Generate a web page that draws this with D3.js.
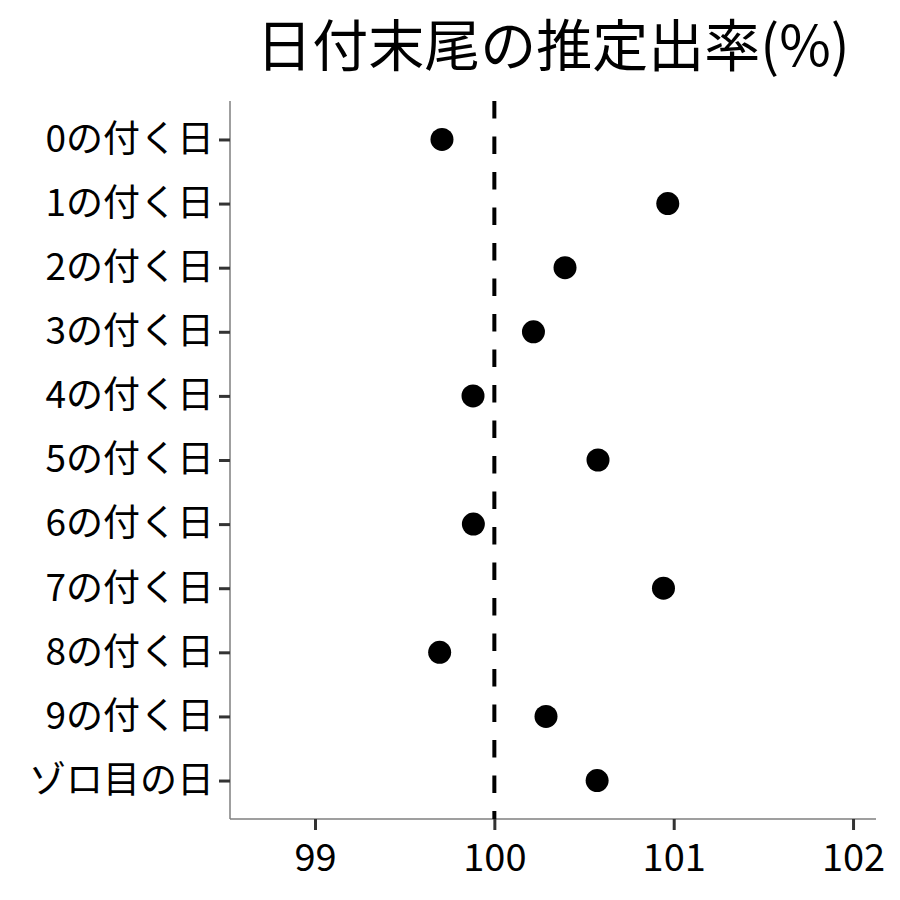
<!DOCTYPE html>
<html><head><meta charset="utf-8">
<script src="https://cdn.jsdelivr.net/npm/d3@7"></script>
<style>body{margin:0;background:#fff}svg{display:block}text{font-family:"Noto Sans CJK JP","Noto Sans",sans-serif}</style>
</head><body><svg id="c" width="900" height="900"></svg>
<script>
const categories = ["0の付く日","1の付く日","2の付く日","3の付く日","4の付く日","5の付く日","6の付く日","7の付く日","8の付く日","9の付く日","ゾロ目の日"];
const values = [99.708,100.967,100.394,100.218,99.881,100.578,99.883,100.943,99.695,100.288,100.573];
const xTicks = [99,100,101,102];
const refValue = 100;
const title = "日付末尾の推定出率(%)";

const svg = d3.select("#c");
const L=230,R=876,T=101,B=819;
const x = d3.scaleLinear().domain([98.526,102.128]).range([L,R]);
const y = d3.scalePoint().domain(categories).range([T,B]).padding(0.6);

svg.append("text").attr("x",(L+R)/2).attr("y",66).attr("text-anchor","middle")
  .attr("font-size",56).attr("fill","#000").text(title);

// axes
const xa = svg.append("g").attr("transform",`translate(0,${B})`)
  .call(d3.axisBottom(x).tickValues(xTicks).tickFormat(d3.format("d")).tickSize(11).tickSizeOuter(0));
const ya = svg.append("g").attr("transform",`translate(${L},0)`)
  .call(d3.axisLeft(y).tickSize(11).tickSizeOuter(0));
[xa,ya].forEach(g=>{
  g.select(".domain").attr("stroke","#7f7f7f").attr("stroke-width",1.5);
  g.selectAll(".tick line").attr("stroke","#333").attr("stroke-width",3);
  g.selectAll(".tick text").attr("fill","#000");
});
xa.selectAll(".tick text").attr("font-size",38).attr("dy","1em");
ya.selectAll(".tick text").attr("font-size",37).attr("x",-16);
xa.select(".domain").attr("d",`M${L},0H${R}`);
ya.select(".domain").attr("d",`M0,${T}V${B}`);

// reference line
svg.append("line").attr("x1",x(refValue)).attr("x2",x(refValue)).attr("y1",T).attr("y2",B)
  .attr("stroke","#000").attr("stroke-width",4).attr("stroke-dasharray","17.5,18");

// points
svg.append("g").selectAll("circle").data(values).join("circle")
  .attr("cx",d=>x(d)).attr("cy",(d,i)=>y(categories[i])).attr("r",11.5).attr("fill","#000");
</script></body></html>
